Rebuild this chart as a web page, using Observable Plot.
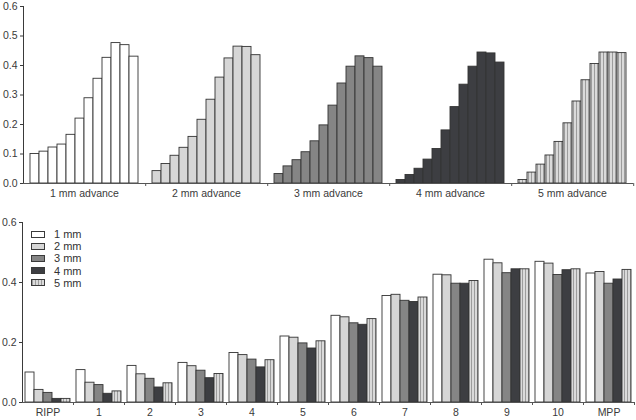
<!DOCTYPE html>
<html>
<head>
<meta charset="utf-8">
<script src="https://cdn.jsdelivr.net/npm/d3@7"></script>
<script src="https://cdn.jsdelivr.net/npm/@observablehq/plot@0.6"></script>
<style>
  html, body { margin: 0; padding: 0; background: #fff; }
  #wrap { position: relative; width: 636px; height: 420px; font-family: "Liberation Sans", Arial, sans-serif; }
  #wrap svg { display: block; }
  .legend { position: absolute; left: 31px; top: 228px; font-size: 11px; color: #333; line-height: 12.2px; }
  .legend .row { display: flex; align-items: center; height: 12.2px; }
  .legend .sw { width: 14px; height: 7px; border: 1px solid #3a3a3a; margin-right: 9px; box-sizing: border-box; }
</style>
</head>
<body>
<svg width="0" height="0" style="position:absolute">
  <defs>
    <pattern id="stripes5" patternUnits="userSpaceOnUse" width="3" height="10">
      <rect x="0" y="0" width="3" height="10" fill="#dadada"></rect>
      <rect x="0" y="0" width="1" height="10" fill="#9c9c9c"></rect>
    </pattern>
  </defs>
</svg>
<div id="wrap"></div>
<script>
// ---- data ----
const categories = ["RIPP", "1", "2", "3", "4", "5", "6", "7", "8", "9", "10", "MPP"];
const series = ["1 mm", "2 mm", "3 mm", "4 mm", "5 mm"];
const groupLabels = ["1 mm advance", "2 mm advance", "3 mm advance", "4 mm advance", "5 mm advance"];
const adv1 = [0.100, 0.108, 0.122, 0.132, 0.165, 0.220, 0.289, 0.355, 0.426, 0.476, 0.469, 0.430];
const adv2 = [0.042, 0.066, 0.094, 0.121, 0.158, 0.216, 0.284, 0.359, 0.424, 0.464, 0.463, 0.435];
const adv3 = [0.032, 0.058, 0.079, 0.106, 0.143, 0.197, 0.264, 0.339, 0.396, 0.431, 0.425, 0.396];
const adv4 = [0.012, 0.029, 0.050, 0.081, 0.117, 0.180, 0.259, 0.335, 0.396, 0.444, 0.441, 0.410];
const adv5 = [0.012, 0.037, 0.064, 0.095, 0.141, 0.204, 0.278, 0.350, 0.405, 0.444, 0.444, 0.442];
const seriesValues = [adv1, adv2, adv3, adv4, adv5];
const fills = ["#ffffff", "#d6d6d6", "#858585", "#3d3e42", "url(#stripes5)"];

// ---- tables ----
const rows = series.flatMap((s, si) =>
  categories.map((c, ci) => ({ series: s, group: groupLabels[si], cat: c, value: seriesValues[si][ci] }))
);

const W = 636, ML = 22, MR = 2;
const font = { fontFamily: "'Liberation Sans', Arial, sans-serif", fontSize: "10.5px", color: "#3a3a3a", background: "transparent" };
const axisStroke = "#555";

// ---- top panel ----
const topFacetW = (W - ML - MR) / groupLabels.length;
const topChart = Plot.plot({
  width: W, height: 208,
  marginLeft: ML, marginRight: MR, marginTop: 6, marginBottom: 25,
  style: font,
  fx: { domain: groupLabels, padding: 0, label: null },
  x: { domain: categories, paddingInner: 0, paddingOuter: 0.74, axis: null },
  y: { domain: [0, 0.6], ticks: [0, 0.1, 0.2, 0.3, 0.4, 0.5, 0.6], tickFormat: ".1f", tickSize: 3, tickPadding: 3, line: true, label: null },
  color: { domain: series, range: fills },
  marks: [
    Plot.barY(rows, { fx: "group", x: "cat", y: "value", fill: "series", stroke: "#333", strokeWidth: 0.9 }),
    Plot.ruleY([0], { stroke: axisStroke }),
    Plot.axisFx({ anchor: "bottom", tickSize: 0, tickPadding: 6, label: null }),
    Plot.axisFx({ anchor: "bottom", tickSize: 3, text: null, dx: topFacetW / 2, stroke: axisStroke, label: null })
  ]
});

// ---- bottom panel ----
const botFacetW = (W - ML - MR) / categories.length;
const bottomChart = Plot.plot({
  width: W, height: 212,
  marginLeft: ML, marginRight: MR, marginTop: 14, marginBottom: 18,
  style: font,
  fx: { domain: categories, padding: 0, label: null },
  x: { domain: series, paddingInner: 0, paddingOuter: 0.3, axis: null },
  y: { domain: [0, 0.6], ticks: [0, 0.2, 0.4, 0.6], tickFormat: ".1f", tickSize: 3, tickPadding: 3, line: true, label: null },
  color: { domain: series, range: fills },
  marks: [
    Plot.barY(rows, { fx: "cat", x: "series", y: "value", fill: "series", stroke: "#333", strokeWidth: 0.9 }),
    Plot.ruleY([0], { stroke: axisStroke }),
    Plot.axisFx({ anchor: "bottom", tickSize: 0, tickPadding: 6, label: null }),
    Plot.axisFx({ anchor: "bottom", tickSize: 3, text: null, dx: botFacetW / 2, stroke: axisStroke, label: null })
  ]
});

const wrap = document.getElementById("wrap");
wrap.appendChild(topChart);
wrap.appendChild(bottomChart);

// ---- legend ----
const legend = document.createElement("div");
legend.className = "legend";
series.forEach((s, i) => {
  const row = document.createElement("div");
  row.className = "row";
  const sw = document.createElement("div");
  sw.className = "sw";
  if (i === 4) {
    sw.style.background = "repeating-linear-gradient(90deg, #9c9c9c 0px, #9c9c9c 1px, #dadada 1px, #dadada 3px)";
  } else {
    sw.style.background = fills[i];
  }
  const t = document.createElement("span");
  t.textContent = s;
  row.appendChild(sw);
  row.appendChild(t);
  legend.appendChild(row);
});
wrap.appendChild(legend);
</script>
</body>
</html>
